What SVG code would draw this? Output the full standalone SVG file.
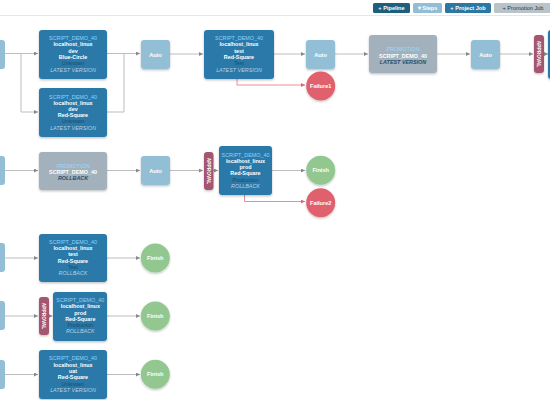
<svg xmlns="http://www.w3.org/2000/svg" width="550" height="400" viewBox="0 0 550 400">
<style>
text{font-family:"Liberation Sans",Arial,sans-serif;text-anchor:middle}
.job{fill:#2b79a9}
.auto{fill:#93bfd6}
.promo{fill:#a2b1bb}
.appr{fill:#a4566f}
.fail{fill:#e0616d}
.fin{fill:#92c78f}
.t{font-size:5.4px;fill:#8fd3fb}
.w{font-size:5.4px;fill:#ffffff;font-weight:bold}
.s{font-size:5.4px;fill:#1a4c6e}
.v{font-size:5.4px;fill:#b9cfe0;font-style:italic}
.pv{font-size:5.4px;fill:#1f4d6e;font-style:italic;font-weight:bold}
.lbl{font-size:5.6px;fill:#ffffff;font-weight:bold}
.ap{font-size:4.8px;fill:#ffffff;font-weight:bold}
.btn{font-size:5.6px;fill:#ffffff;font-weight:bold}
.c{fill:none;stroke:#bdbdbd;stroke-width:1}
.cf{fill:none;stroke:#ec8d95;stroke-width:1}
</style>
<defs>
<marker id="ar" markerWidth="4" markerHeight="4" refX="4" refY="2" orient="auto" markerUnits="userSpaceOnUse"><path d="M0,0 L4,2 L0,4 Z" fill="#888"/></marker>
<marker id="arf" markerWidth="4" markerHeight="4" refX="4" refY="2" orient="auto" markerUnits="userSpaceOnUse"><path d="M0,0 L4,2 L0,4 Z" fill="#e06670"/></marker>
<filter id="sh" x="-20%" y="-20%" width="140%" height="150%"><feDropShadow dx="0" dy="1.2" stdDeviation="1.2" flood-color="#000" flood-opacity="0.25"/></filter>
</defs>
<rect width="550" height="400" fill="#ffffff"/>
<line x1="0" y1="15.5" x2="550" y2="15.5" stroke="#e6e6e6" stroke-width="1"/>
<g id="toolbar">
<rect x="373" y="3" width="37" height="10" rx="1.5" fill="#1e5f7c"/><text class="btn" x="391.5" y="10">+ Pipeline</text>
<rect x="413" y="3" width="29" height="10" rx="1.5" fill="#93bdd3"/><text class="btn" x="427.5" y="10">▾ Steps</text>
<rect x="445" y="3" width="46" height="10" rx="1.5" fill="#2d77a3"/><text class="btn" x="468" y="10">+ Project Job</text>
<rect x="494" y="3" width="60" height="10" rx="1.5" fill="#b9c3ca"/><text class="btn" x="523" y="10" style="fill:#333;font-weight:normal">+ Promotion Job</text>
</g>
<g id="connectors">
<path class="c" d="M5,53.5 H21 M21,53.5 H38" marker-end="url(#ar)"/>
<path class="c" d="M21,53.5 V112 H38" marker-end="url(#ar)"/>
<path class="c" d="M107,53.5 H124 V112 H107"/>
<path class="c" d="M124,53.5 H140" marker-end="url(#ar)"/>
<path class="c" d="M170,54 H203" marker-end="url(#ar)"/>
<path class="c" d="M274,54 H305" marker-end="url(#ar)"/>
<path class="cf" d="M237,79 V85 H305" marker-end="url(#arf)"/>
<path class="c" d="M335,54 H368" marker-end="url(#ar)"/>
<path class="c" d="M437,54 H470" marker-end="url(#ar)"/>
<path class="c" d="M500,54 H533" marker-end="url(#ar)"/>
<path class="c" d="M544,54 H548" marker-end="url(#ar)"/>
<path class="c" d="M5,170.5 H38" marker-end="url(#ar)"/>
<path class="c" d="M107,170.5 H140" marker-end="url(#ar)"/>
<path class="c" d="M170,170.5 H203" marker-end="url(#ar)"/>
<path class="c" d="M213,170.5 H218" marker-end="url(#ar)"/>
<path class="c" d="M272,170.5 H305" marker-end="url(#ar)"/>
<path class="cf" d="M244.5,195 V201.5 H305" marker-end="url(#arf)"/>
<path class="c" d="M5,258 H38" marker-end="url(#ar)"/>
<path class="c" d="M107,258 H140" marker-end="url(#ar)"/>
<path class="c" d="M5,316 H38" marker-end="url(#ar)"/>
<path class="c" d="M49,316 H52.5" marker-end="url(#ar)"/>
<path class="c" d="M107,316 H140" marker-end="url(#ar)"/>
<path class="c" d="M5,374.5 H38" marker-end="url(#ar)"/>
<path class="c" d="M107,374.5 H140" marker-end="url(#ar)"/>
</g>
<g id="left1"><rect class="auto" x="-25" y="40" width="30" height="29" rx="3"/></g>
<g id="left2"><rect class="auto" x="-25" y="156" width="30" height="29" rx="3"/></g>
<g id="left3"><rect class="auto" x="-25" y="243" width="30" height="29" rx="3"/></g>
<g id="left4"><rect class="auto" x="-25" y="301" width="30" height="29" rx="3"/></g>
<g id="left5"><rect class="auto" x="-25" y="360" width="30" height="29" rx="3"/></g>
<g id="jobA"><rect class="job" x="39" y="30" width="68" height="49" rx="3" filter="url(#sh)"/>
<text class="t" x="73" y="40.3">SCRIPT_DEMO_40</text><text class="w" x="73" y="46.3">localhost_linux</text><text class="w" x="73" y="52.7">dev</text><text class="w" x="73" y="59">Blue-Circle</text><text class="s" x="73" y="65">Unknown</text><text class="v" x="73" y="71.7">LATEST VERSION</text></g>
<g id="jobB"><rect class="job" x="39" y="88" width="68" height="49" rx="3" filter="url(#sh)"/>
<text class="t" x="73" y="98.7">SCRIPT_DEMO_40</text><text class="w" x="73" y="104.7">localhost_linux</text><text class="w" x="73" y="111">dev</text><text class="w" x="73" y="117.3">Red-Square</text><text class="s" x="73" y="123.3">Unknown</text><text class="v" x="73" y="129.7">LATEST VERSION</text></g>
<g id="auto1"><rect class="auto" x="141" y="40" width="29" height="29" rx="3" filter="url(#sh)"/><text class="lbl" x="155.5" y="56.5">Auto</text></g>
<g id="jobC"><rect class="job" x="204" y="30" width="70" height="49" rx="3" filter="url(#sh)"/>
<text class="t" x="239" y="40.3">SCRIPT_DEMO_40</text><text class="w" x="239" y="46.3">localhost_linux</text><text class="w" x="239" y="52.7">test</text><text class="w" x="239" y="59">Red-Square</text><text class="s" x="239" y="65">Test</text><text class="v" x="239" y="71.7">LATEST VERSION</text></g>
<g id="auto2"><rect class="auto" x="306" y="40" width="29" height="29" rx="3" filter="url(#sh)"/><text class="lbl" x="320.5" y="56.5">Auto</text></g>
<g id="failure1"><circle class="fail" cx="320.7" cy="86" r="14.5" filter="url(#sh)"/><text class="lbl" x="320.7" y="88">Failure1</text></g>
<g id="promo1"><rect class="promo" x="369" y="35" width="68" height="38" rx="3" filter="url(#sh)"/>
<text class="t" x="403" y="51.3" style="fill:#9dd9fb">PROMOTION</text><text class="w" x="403" y="57.7">SCRIPT_DEMO_40</text><text class="pv" x="403" y="64">LATEST VERSION</text></g>
<g id="auto3"><rect class="auto" x="471" y="40" width="29" height="29" rx="3" filter="url(#sh)"/><text class="lbl" x="485.5" y="56.5">Auto</text></g>
<g id="approval1"><rect class="appr" x="534" y="35" width="10" height="38" rx="3" filter="url(#sh)"/><text class="ap" transform="translate(537.3,54) rotate(90)">APPROVAL</text></g>
<g id="jobRight"><rect class="job" x="548" y="30" width="70" height="49" rx="3" filter="url(#sh)"/></g>
<g id="promo2"><rect class="promo" x="39" y="152" width="68" height="38" rx="3" filter="url(#sh)"/>
<text class="t" x="73" y="167.7" style="fill:#9dd9fb">PROMOTION</text><text class="w" x="73" y="174">SCRIPT_DEMO_40</text><text class="pv" x="73" y="180.3">ROLLBACK</text></g>
<g id="auto4"><rect class="auto" x="141" y="156" width="29" height="29" rx="3" filter="url(#sh)"/><text class="lbl" x="155.5" y="172.5">Auto</text></g>
<g id="approval2"><rect class="appr" x="204" y="152" width="9.5" height="38" rx="3" filter="url(#sh)"/><text class="ap" transform="translate(207,171) rotate(90)">APPROVAL</text></g>
<g id="jobD"><rect class="job" x="219" y="146" width="53" height="49" rx="3" filter="url(#sh)"/>
<text class="t" x="245.5" y="157">SCRIPT_DEMO_40</text><text class="w" x="245.5" y="162.7">localhost_linux</text><text class="w" x="245.5" y="169">prod</text><text class="w" x="245.5" y="175.3">Red-Square</text><text class="s" x="245.5" y="181.7">Production</text><text class="v" x="245.5" y="187.7">ROLLBACK</text></g>
<g id="finish1"><circle class="fin" cx="320.7" cy="170.3" r="14.5" filter="url(#sh)"/><text class="lbl" x="320.7" y="172.3">Finish</text></g>
<g id="failure2"><circle class="fail" cx="320.7" cy="202.7" r="14.5" filter="url(#sh)"/><text class="lbl" x="320.7" y="204.7">Failure2</text></g>
<g id="jobE"><rect class="job" x="39" y="234" width="68" height="48" rx="3" filter="url(#sh)"/>
<text class="t" x="73" y="244.3">SCRIPT_DEMO_40</text><text class="w" x="73" y="250.3">localhost_linux</text><text class="w" x="73" y="256.3">test</text><text class="w" x="73" y="262.7">Red-Square</text><text class="s" x="73" y="269">Test</text><text class="v" x="73" y="275.3">ROLLBACK</text></g>
<g id="finish2"><circle class="fin" cx="155.3" cy="258" r="14.5" filter="url(#sh)"/><text class="lbl" x="155.3" y="260">Finish</text></g>
<g id="approval3"><rect class="appr" x="39" y="297" width="10" height="38" rx="3" filter="url(#sh)"/><text class="ap" transform="translate(42.3,316) rotate(90)">APPROVAL</text></g>
<g id="jobF"><rect class="job" x="53" y="292" width="54" height="49" rx="3" filter="url(#sh)"/>
<text class="t" x="80.3" y="302">SCRIPT_DEMO_40</text><text class="w" x="80.3" y="308.3">localhost_linux</text><text class="w" x="80.3" y="314.7">prod</text><text class="w" x="80.3" y="321">Red-Square</text><text class="s" x="80.3" y="327.3">Production</text><text class="v" x="80.3" y="333.3">ROLLBACK</text></g>
<g id="finish3"><circle class="fin" cx="155.3" cy="316" r="14.5" filter="url(#sh)"/><text class="lbl" x="155.3" y="318">Finish</text></g>
<g id="jobG"><rect class="job" x="39" y="350" width="68" height="49" rx="3" filter="url(#sh)"/>
<text class="t" x="73" y="360.3">SCRIPT_DEMO_40</text><text class="w" x="73" y="366.7">localhost_linux</text><text class="w" x="73" y="373">uat</text><text class="w" x="73" y="379.3">Red-Square</text><text class="s" x="73" y="385.7">Unknown</text><text class="v" x="73" y="392">LATEST VERSION</text></g>
<g id="finish4"><circle class="fin" cx="155.3" cy="374.3" r="14.5" filter="url(#sh)"/><text class="lbl" x="155.3" y="376.3">Finish</text></g>
</svg>
